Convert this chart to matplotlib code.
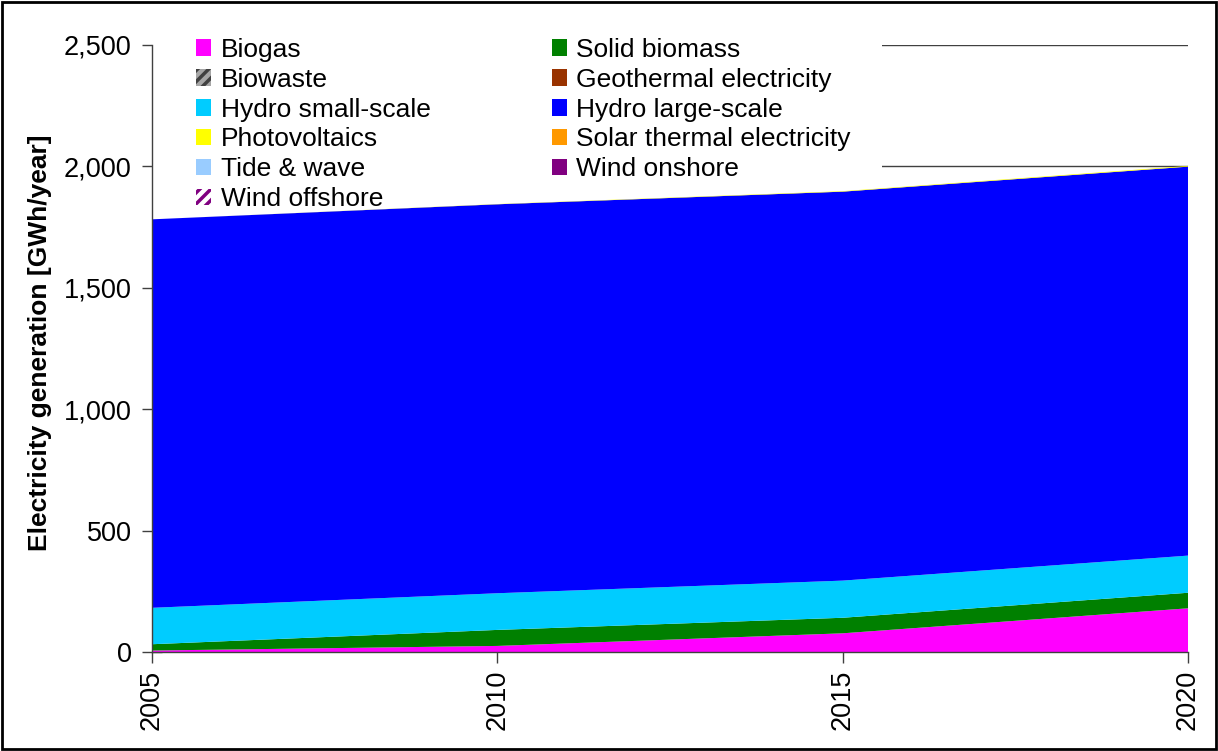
import matplotlib
matplotlib.use("Agg")
import matplotlib.pyplot as plt
from matplotlib.patches import Rectangle
from matplotlib.ticker import FuncFormatter

plt.rcParams['font.family'] = ['Liberation Sans', 'DejaVu Sans']
plt.rcParams['hatch.linewidth'] = 2.5

# Renewable electricity generation by technology [GWh/year]
years = [2005, 2010, 2015, 2020]
biogas = [6, 25, 77, 180]
solid_biomass = [26, 66, 64, 64]
biowaste = [0, 0, 0, 0]
geothermal = [0, 0, 0, 0]
hydro_small = [150, 151, 153, 153]
hydro_large = [1600, 1602, 1602, 1602]
photovoltaics = [0, 1, 2, 3]
solar_thermal = [0, 0, 0, 0]
tide_wave = [0, 0, 0, 0]
wind_onshore = [0, 0, 0, 0]
wind_offshore = [0, 0, 0, 0]

labels = ["Biogas", "Solid biomass", "Biowaste", "Geothermal electricity",
          "Hydro small-scale", "Hydro large-scale", "Photovoltaics",
          "Solar thermal electricity", "Tide & wave", "Wind onshore",
          "Wind offshore"]
series = [biogas, solid_biomass, biowaste, geothermal, hydro_small,
          hydro_large, photovoltaics, solar_thermal, tide_wave,
          wind_onshore, wind_offshore]
colors = ["#FF00FF", "#008000", "#A6A6A6", "#993300", "#00CCFF",
          "#0000FF", "#FFFF00", "#FF9900", "#99CCFF", "#800080", "#FFFFFF"]
hatches = [None, None, "///", None, None, None, None, None, None, None, "///"]
hatch_colors = [None, None, "#404040", None, None, None, None, None, None,
                None, "#800080"]

fig = plt.figure(figsize=(12.18, 7.51), dpi=100)
ax = fig.add_axes([152 / 1218, 1 - 652 / 751, 1036 / 1218, 607 / 751])

polys = ax.stackplot(years, *series, colors=colors, labels=labels,
                     linewidth=0, zorder=2)
for poly, h, hc in zip(polys, hatches, hatch_colors):
    if h:
        poly.set_hatch(h)
        poly.set_edgecolor(hc)
        poly.set_linewidth(0)

ax.set_xlim(2005, 2020)
ax.set_ylim(0, 2500)
ax.set_xticks([2005, 2010, 2015, 2020])
ax.set_yticks([0, 500, 1000, 1500, 2000, 2500])
ax.yaxis.set_major_formatter(FuncFormatter(lambda v, p: f"{int(v):,}"))

ax.set_axisbelow(True)
ax.grid(axis='y', color='#404040', linewidth=1, zorder=0.5)
for s in ['top', 'right']:
    ax.spines[s].set_visible(False)
for s in ['left', 'bottom']:
    ax.spines[s].set_color('#404040')
    ax.spines[s].set_linewidth(1)
    ax.spines[s].set_zorder(3)

ax.tick_params(axis='y', direction='inout', length=15, width=1,
               color='#404040', labelsize=19.5, pad=7)
ax.tick_params(axis='x', direction='out', length=8, width=1,
               color='#404040', labelsize=19.5, pad=5, labelrotation=90)

ax.set_ylabel("Electricity generation [GWh/year]", fontsize=19,
              fontweight='bold')
ax.yaxis.set_label_coords(-0.0965, 0.509)

# White backing behind the legend, drawn under the areas
ax.add_patch(Rectangle((0, 0.71), 0.705, 0.31, transform=ax.transAxes,
                       facecolor='white', edgecolor='none', zorder=1,
                       clip_on=False))

# Legend entries read across rows: two columns filled row by row
handles, _ = ax.get_legend_handles_labels()
order = list(range(0, len(labels), 2)) + list(range(1, len(labels), 2))
leg = ax.legend([handles[i] for i in order], [labels[i] for i in order],
                ncol=2, loc='upper left',
                bbox_to_anchor=(196 / 1218, 1 - 38 / 751),
                bbox_transform=fig.transFigure, frameon=False,
                fontsize=19, handlelength=0.58, handleheight=0.58,
                handletextpad=0.35, columnspacing=4.6, labelspacing=0.22,
                borderpad=0, borderaxespad=0)
leg.set_zorder(4)

fig.add_artist(Rectangle((2 / 1218, 2 / 751), 1214 / 1218, 747 / 751,
                         transform=fig.transFigure, fill=False,
                         edgecolor='black', linewidth=2))

fig.savefig("out.png", dpi=100)
